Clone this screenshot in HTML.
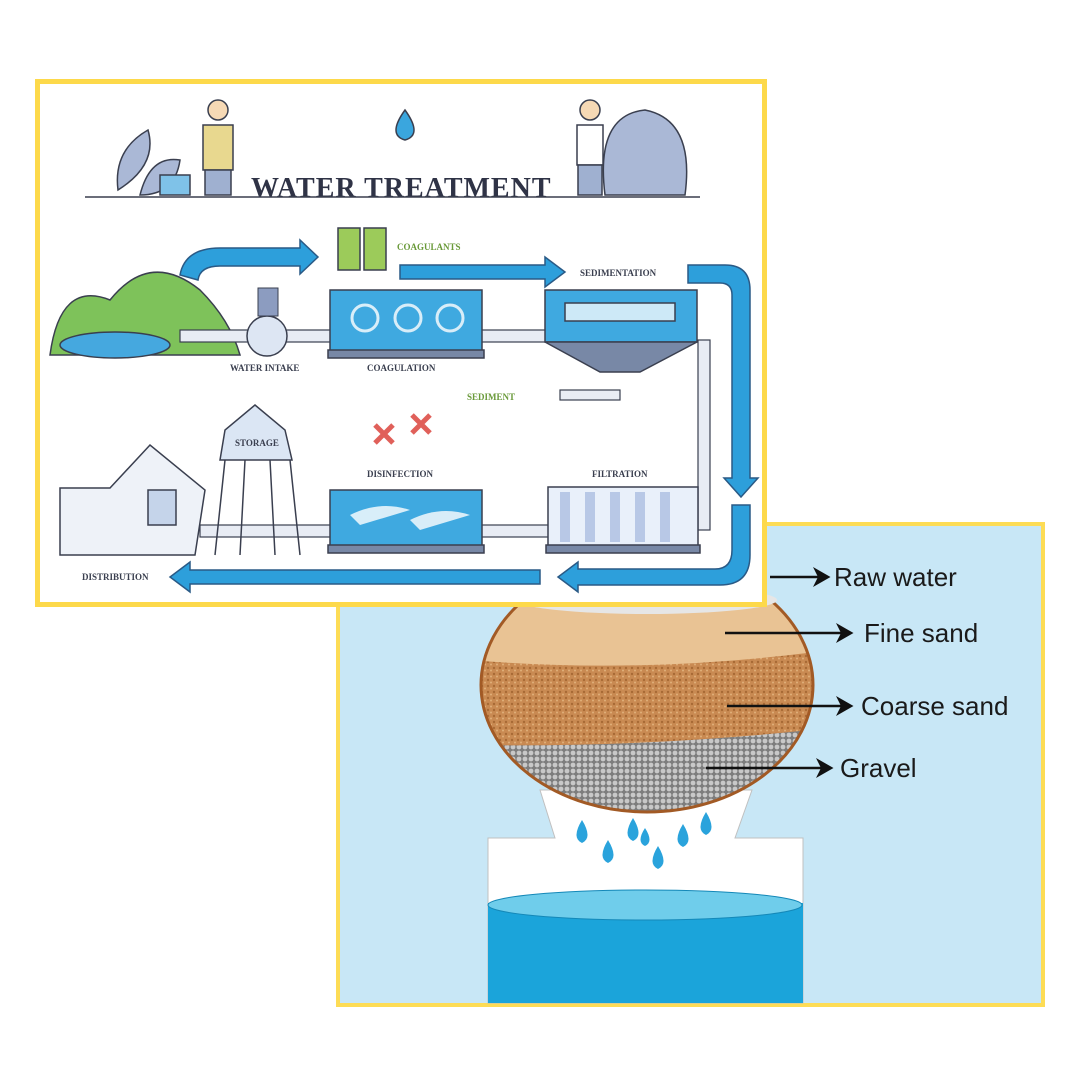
<!DOCTYPE html>
<html><head><meta charset="utf-8"><style>
html,body{margin:0;padding:0;background:#fff;width:1080px;height:1080px;overflow:hidden}
svg{display:block}
.l{font-family:"Liberation Serif",serif;font-weight:bold;font-size:9px;fill:#3a3f4f}
.g{fill:#6a9a3a}
.t{font-family:"Liberation Sans",sans-serif;font-size:26px;fill:#1a1a1a}
</style></head><body>
<svg width="1080" height="1080" viewBox="0 0 1080 1080">
<defs>
<pattern id="cs" width="6" height="6" patternUnits="userSpaceOnUse"><rect width="6" height="6" fill="#c98a52"/><circle cx="2" cy="2" r="1.2" fill="#a86a35"/><circle cx="5" cy="4.5" r="1" fill="#e0b07a"/></pattern>
<pattern id="gv" width="6" height="6" patternUnits="userSpaceOnUse"><rect width="6" height="6" fill="#7d7d7d"/><circle cx="3" cy="3" r="2.4" fill="#c8c8c8"/></pattern>
<clipPath id="bowl"><ellipse cx="647" cy="685" rx="166" ry="127"/></clipPath>
<marker id="ah" markerWidth="8" markerHeight="8" refX="6" refY="4" orient="auto"><path d="M0,0 L7,4 L0,8 L2,4z" fill="#111"/></marker>
</defs>
<rect x="338" y="524" width="705" height="481" fill="#c8e7f6" stroke="#fddc55" stroke-width="4"/>
<path d="M540,790 L752,790 L735,838 L803,838 L803,1003 L488,1003 L488,838 L555,838 Z" fill="#fff" stroke="#c0c0c0" stroke-width="1"/>
<rect x="488" y="903" width="315" height="100" fill="#1ba4da"/>
<ellipse cx="645" cy="905" rx="157" ry="15" fill="#6fcdeb" stroke="#1488b8" stroke-width="1"/>
<g clip-path="url(#bowl)">
<rect x="470" y="550" width="360" height="270" fill="#e9c394"/>
<path d="M470,660 Q647,675 830,650 L830,830 L470,830Z" fill="url(#cs)"/>
<path d="M470,745 Q647,748 830,728 L830,830 L470,830Z" fill="url(#gv)"/>
</g>
<ellipse cx="647" cy="685" rx="166" ry="127" fill="none" stroke="#a25a25" stroke-width="3"/>
<ellipse cx="647" cy="600" rx="130" ry="14" fill="#e6e6e6"/>
<g fill="#2aa3dc">
<path d="M582,820 q-11,18 0,23 q11,-5 0,-23z"/><path d="M633,818 q-11,18 0,23 q11,-5 0,-23z"/>
<path d="M608,840 q-11,18 0,23 q11,-5 0,-23z"/><path d="M658,846 q-11,18 0,23 q11,-5 0,-23z"/>
<path d="M683,824 q-11,18 0,23 q11,-5 0,-23z"/><path d="M706,812 q-11,18 0,23 q11,-5 0,-23z"/>
<path d="M645,828 q-9,14 0,18 q9,-4 0,-18z"/>
</g>
<g stroke="#111" stroke-width="2.5" marker-end="url(#ah)">
<line x1="770" y1="577" x2="828" y2="577"/><line x1="725" y1="633" x2="851" y2="633"/>
<line x1="727" y1="706" x2="851" y2="706"/><line x1="706" y1="768" x2="831" y2="768"/>
</g>
<text class="t" x="834" y="586">Raw water</text>
<text class="t" x="864" y="642">Fine sand</text>
<text class="t" x="861" y="715">Coarse sand</text>
<text class="t" x="840" y="777">Gravel</text>

<rect x="37.5" y="81.5" width="727" height="523" fill="#fff" stroke="#fdd94a" stroke-width="5"/>
<text x="251" y="197" font-family="Liberation Serif,serif" font-weight="bold" font-size="28" letter-spacing="1" fill="#2f3346">WATER TREATMENT</text>
<g fill="#aab8d6" stroke="#3a3f4f" stroke-width="1.5">
<path d="M118,190 q-5,-40 30,-60 q10,35 -30,60z"/><path d="M140,195 q10,-40 40,-35 q-5,35 -40,35z"/>
<path d="M605,195 q-10,-80 40,-85 q50,10 40,85z"/>
<rect x="160" y="175" width="30" height="20" fill="#7fc2e8"/>
<rect x="203" y="125" width="30" height="45" fill="#e8d88f"/><rect x="205" y="170" width="26" height="25" fill="#9fb0d0"/>
<circle cx="218" cy="110" r="10" fill="#f6d9b5"/>
<rect x="577" y="125" width="26" height="40" fill="#fff"/><rect x="578" y="165" width="24" height="30" fill="#9fb0d0"/>
<circle cx="590" cy="110" r="10" fill="#f6d9b5"/>
<path d="M405,110 q-18,25 0,30 q18,-5 0,-30z" fill="#3aa6de"/>
</g>
<line x1="85" y1="197" x2="700" y2="197" stroke="#3a3f4f" stroke-width="1.5"/>
<path d="M50,355 Q60,280 110,300 Q150,250 200,290 Q230,320 240,355 Z" fill="#7ec25a" stroke="#3a3f4f" stroke-width="1.5"/>
<ellipse cx="115" cy="345" rx="55" ry="13" fill="#45a8df" stroke="#3a3f4f" stroke-width="1.5"/>
<g fill="#2d9fdb" stroke="#2a5a86" stroke-width="1.5">
<path d="M180,275 Q185,248 220,248 L300,248 L300,240 L318,257 L300,274 L300,266 L220,266 Q200,266 198,280Z"/>
<path d="M400,265 L545,265 L545,257 L565,272 L545,287 L545,279 L400,279Z"/>
<path d="M688,265 L725,265 Q750,265 750,290 L750,478 L758,478 L741,497 L724,478 L732,478 L732,295 Q732,283 720,283 L688,283Z"/>
<path d="M732,505 L750,505 L750,555 Q750,585 720,585 L578,585 L578,592 L558,577 L578,562 L578,569 L715,569 Q732,569 732,550Z"/>
<path d="M540,570 L190,570 L190,562 L170,577 L190,592 L190,584 L540,584Z"/>
</g>
<g fill="#e8ecf4" stroke="#3a3f4f" stroke-width="1.2">
<rect x="180" y="330" width="370" height="12"/><rect x="698" y="340" width="12" height="190"/>
<rect x="200" y="525" width="350" height="12"/><rect x="560" y="390" width="60" height="10"/>
</g>
<circle cx="267" cy="336" r="20" fill="#dde6f3" stroke="#3a3f4f" stroke-width="1.5"/>
<rect x="258" y="288" width="20" height="28" fill="#8c9cc0" stroke="#3a3f4f"/>
<g stroke="#3a3f4f" stroke-width="1.5">
<rect x="330" y="290" width="152" height="62" fill="#3fa9e0"/><rect x="328" y="350" width="156" height="8" fill="#7888a6"/>
<rect x="338" y="228" width="22" height="42" fill="#9ccb5a"/><rect x="364" y="228" width="22" height="42" fill="#9ccb5a"/>
<rect x="545" y="290" width="152" height="52" fill="#3fa9e0"/>
<path d="M545,342 L697,342 L640,372 L600,372Z" fill="#7888a6"/>
<rect x="565" y="303" width="110" height="18" fill="#cde9f7"/>
<rect x="548" y="487" width="150" height="60" fill="#e9f0fa"/><rect x="546" y="545" width="154" height="8" fill="#7888a6"/>
<rect x="330" y="490" width="152" height="57" fill="#3fa9e0"/><rect x="328" y="545" width="156" height="8" fill="#7888a6"/>
<path d="M220,460 L225,430 L255,405 L285,430 L292,460Z" fill="#dbe6f4"/>
<path d="M225,460 L215,555 M290,460 L300,555 M245,460 L240,555 M270,460 L275,555" fill="none"/>
<path d="M60,555 L60,488 L110,488 L150,445 L205,490 L195,555Z" fill="#eef2f8"/>
<rect x="148" y="490" width="28" height="35" fill="#c5d4ea"/>
</g>
<g fill="#fff" opacity=".8"><circle cx="365" cy="318" r="13" fill="none" stroke="#fff" stroke-width="3"/><circle cx="408" cy="318" r="13" fill="none" stroke="#fff" stroke-width="3"/><circle cx="450" cy="318" r="13" fill="none" stroke="#fff" stroke-width="3"/>
<path d="M350,515 q30,-15 60,-5 l-50,15z"/><path d="M410,520 q30,-15 60,-5 l-50,15z"/></g>
<g fill="#b8c8e6"><rect x="560" y="492" width="10" height="50"/><rect x="585" y="492" width="10" height="50"/><rect x="610" y="492" width="10" height="50"/><rect x="635" y="492" width="10" height="50"/><rect x="660" y="492" width="10" height="50"/></g>
<path d="M375,425 l18,18 M393,425 l-18,18 M412,415 l18,18 M430,415 l-18,18" stroke="#e0605a" stroke-width="5"/>
<text class="l g" x="397" y="250">COAGULANTS</text>
<text class="l" x="580" y="276">SEDIMENTATION</text>
<text class="l" x="230" y="371">WATER INTAKE</text>
<text class="l" x="367" y="371">COAGULATION</text>
<text class="l g" x="467" y="400">SEDIMENT</text>
<text class="l" x="235" y="446">STORAGE</text>
<text class="l" x="367" y="477">DISINFECTION</text>
<text class="l" x="592" y="477">FILTRATION</text>
<text class="l" x="82" y="580">DISTRIBUTION</text>
</svg>
</body></html>
